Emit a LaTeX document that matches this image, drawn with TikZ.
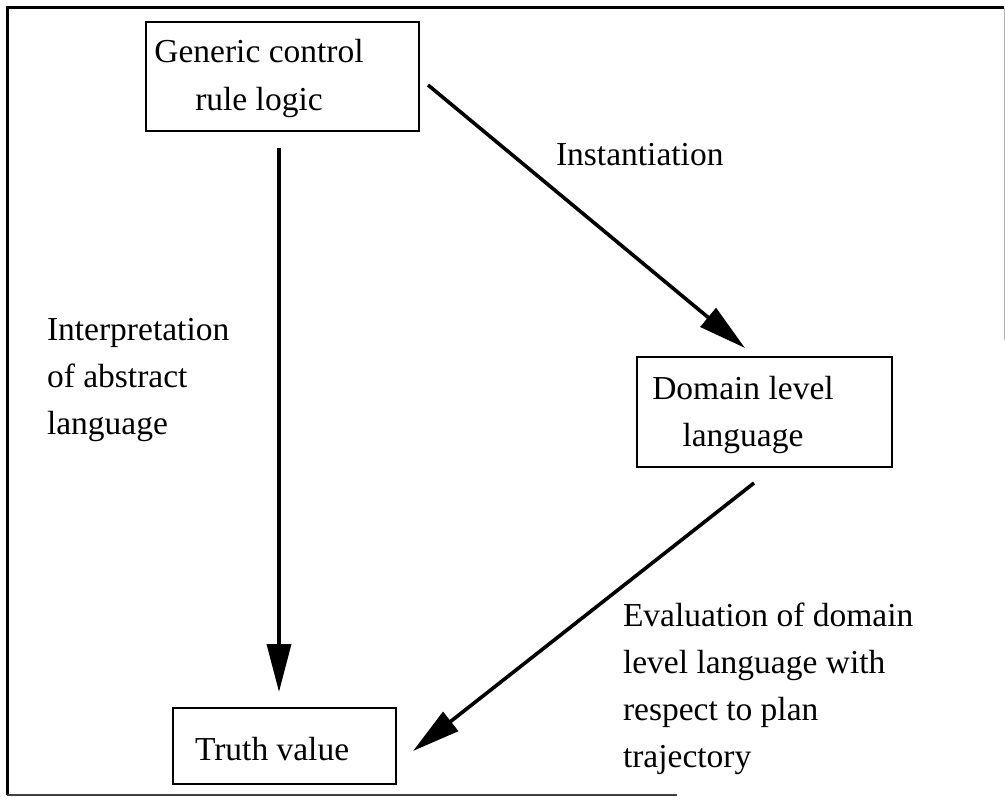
\documentclass[tikz,border=0pt]{standalone}
\usepackage{fontspec}
\setmainfont{Liberation Serif}
\usetikzlibrary{arrows.meta}

% multi-line text whose reference point is the baseline of its first line
\newcommand{\leftlines}[1]{\begin{tabular}[t]{@{}l@{}}#1\end{tabular}}
\newcommand{\midlines}[1]{\begin{tabular}[t]{@{}c@{}}#1\end{tabular}}

\begin{document}
\fontsize{33.5bp}{47bp}\selectfont
\begin{tikzpicture}[x=1bp, y=-1bp,
  every node/.style={inner sep=0pt, outer sep=0pt},
  box/.style={draw, line width=2bp, rectangle},
  txt/.style={font=\fontsize{33.5bp}{47bp}\selectfont},
  link/.style={line width=3.6bp, -{Triangle[length=48bp, width=24bp]}}
]
\useasboundingbox (0,0) rectangle (1005,797);

% outer frame
\draw[line width=3bp] (7,795) -- (7,8) -- (1004,8);
\draw[line width=2bp, black!75] (7,795) -- (677,795);
\draw[line width=1bp, black!30] (1004,8) -- (1004,340);

% boxes
\node[box, minimum width=273bp, minimum height=109bp] (gen) at (282.5,76.5) {};
\node[box, minimum width=255bp, minimum height=110bp] (dom) at (764.5,412) {};
\node[box, minimum width=223bp, minimum height=76bp] (truth) at (284.5,746) {};

% box texts
\node[txt, anchor=base] (gentext) at (259,63) {\midlines{Generic control\\rule logic}};
\node[txt, anchor=base] (domtext) at (743,399) {\midlines{Domain level\\language}};
\node[txt, anchor=base west] (truthtext) at (195,760) {Truth value};

% connector ends
\coordinate (genA) at (279,148);
\coordinate (truthA) at (279,692);
\coordinate (genB) at (428,85);
\coordinate (domB) at (745,348);
\coordinate (domC) at (754,483);
\coordinate (truthC) at (413,751);

\draw[link] (genA) -- (truthA);
\draw[link] (genB) -- (domB);
\draw[link] (domC) -- (truthC);

% connector labels
\node[txt, anchor=base west] (inst) at (556,165) {Instantiation};
\node[txt, anchor=base west] (interp) at (47,340) {\leftlines{Interpretation\\of abstract\\language}};
\node[txt, anchor=base west] (eval) at (623,626) {\leftlines{Evaluation of domain\\level language with\\respect to plan\\trajectory}};
\end{tikzpicture}
\end{document}
